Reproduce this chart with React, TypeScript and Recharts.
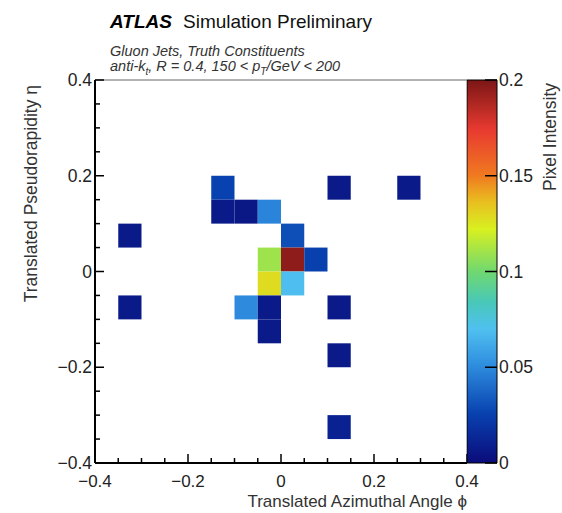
import React from "react";
import { ScatterChart, Scatter, XAxis, YAxis, ReferenceArea, ReferenceLine, BarChart, Bar } from "recharts";

// lower edges of the filled pixels (phi, eta) and their intensity
const phiLow = [-0.15, 0.1, 0.25, -0.15, -0.1, -0.05, -0.35, 0.0, -0.05, 0.0, 0.05, -0.05, 0.0, -0.35, -0.1, -0.05, 0.1, -0.05, 0.1, 0.1];
const etaLow = [0.15, 0.15, 0.15, 0.1, 0.1, 0.1, 0.05, 0.05, 0.0, 0.0, 0.0, -0.05, -0.05, -0.1, -0.1, -0.1, -0.1, -0.15, -0.2, -0.35];
const intensity = [0.026, 0.007, 0.007, 0.007, 0.006, 0.048, 0.007, 0.03, 0.11, 0.196, 0.025, 0.128, 0.069, 0.007, 0.05, 0.007, 0.007, 0.007, 0.007, 0.011];
const BIN = 0.05;

const axisTicks = [-0.4, -0.35, -0.3, -0.25, -0.2, -0.15, -0.1, -0.05, 0, 0.05, 0.1, 0.15, 0.2, 0.25, 0.3, 0.35, 0.4];
const majorTicks = [-0.4, -0.2, 0, 0.2, 0.4];
const zTicks = [0, 0.05, 0.1, 0.15, 0.2];
const Z_MAX = 0.2;

const paletteStops = [0, 0.13, 0.26, 0.35, 0.42, 0.5, 0.61, 0.68, 0.75, 0.87, 1];
const paletteColors = ["#0b0b7a", "#0842b0", "#3090e0", "#50c0f0", "#48c8b8", "#70d870", "#d8f020", "#e8c020", "#f07a20", "#e83a30", "#7c1616"];

const FONT = "'Liberation Sans', Arial, Helvetica, sans-serif";

const hex = (c: string) => [1, 3, 5].map((i) => parseInt(c.slice(i, i + 2), 16));

function colorFor(v: number) {
  const f = Math.max(0, Math.min(1, v / Z_MAX));
  let i = 0;
  while (i < paletteStops.length - 2 && f > paletteStops[i + 1]) i++;
  const t = (f - paletteStops[i]) / (paletteStops[i + 1] - paletteStops[i]);
  const a = hex(paletteColors[i]);
  const b = hex(paletteColors[i + 1]);
  const rgb = a.map((av, k) => Math.round(av + (b[k] - av) * t));
  return `rgb(${rgb.join(",")})`;
}

const cells = phiLow.map((phi, i) => ({
  phi,
  eta: etaLow[i],
  value: intensity[i],
  cx: phi + BIN / 2,
  cy: etaLow[i] + BIN / 2,
}));

const fmt = (v: number) => {
  if (Math.abs(v) < 1e-9) return "0";
  return (v < 0 ? "\u2212" : "") + Math.abs(v).toFixed(1);
};
const isMajor = (v: number) => majorTicks.some((m) => Math.abs(m - v) < 1e-6);

const XTick = (props: any) => {
  const { x, y, payload } = props;
  const major = isMajor(payload.value);
  return (
    <g>
      <line x1={x} x2={x} y1={y} y2={y - (major ? 9 : 5)} stroke="#000" strokeWidth={1.5} />
      {major && (
        <text x={x} y={y + 24} textAnchor="middle" fontSize={17} fontFamily={FONT} fill="#222">
          {fmt(payload.value)}
        </text>
      )}
    </g>
  );
};

const YTick = (props: any) => {
  const { x, y, payload } = props;
  const major = isMajor(payload.value);
  return (
    <g>
      <line x1={x} x2={x + (major ? 9 : 5)} y1={y} y2={y} stroke="#000" strokeWidth={1.5} />
      {major && (
        <text x={x - 3} y={y} dy="0.35em" textAnchor="end" fontSize={17.5} fontFamily={FONT} fill="#222">
          {fmt(payload.value)}
        </text>
      )}
    </g>
  );
};

const ZTick = (props: any) => {
  const { x, y, payload } = props;
  return (
    <g>
      <line x1={x - 12} x2={x} y1={y} y2={y} stroke="#000" strokeWidth={1.5} />
      <text x={x + 2} y={y} dy="0.35em" textAnchor="start" fontSize={17.5} fontFamily={FONT} fill="#222">
        {String(payload.value)}
      </text>
    </g>
  );
};

export default function App() {
  return (
    <div style={{ position: "absolute", left: 0, top: 0, width: 562, height: 513, background: "#fff" }}>
      <div style={{ position: "absolute", left: 0, top: 0 }}>
        <ScatterChart width={562} height={513} margin={{ top: 80, right: 95, bottom: 20, left: 55 }}>
          {cells.map((c, i) => (
            <ReferenceArea
              key={i}
              x1={c.phi}
              x2={c.phi + BIN}
              y1={c.eta}
              y2={c.eta + BIN}
              fill={colorFor(c.value)}
              fillOpacity={1}
              stroke="none"
            />
          ))}
          <ReferenceLine y={0.4} stroke="#666" strokeWidth={1} />
          <ReferenceLine x={0.4} stroke="#666" strokeWidth={1} />
          <XAxis
            type="number"
            dataKey="cx"
            domain={[-0.4, 0.4]}
            ticks={axisTicks}
            interval={0}
            allowDataOverflow
            height={30}
            tickSize={0}
            tickMargin={0}
            tickLine={false}
            axisLine={{ stroke: "#000", strokeWidth: 2 }}
            tick={<XTick />}
          />
          <YAxis
            type="number"
            dataKey="cy"
            domain={[-0.4, 0.4]}
            ticks={axisTicks}
            interval={0}
            allowDataOverflow
            width={40}
            tickSize={0}
            tickMargin={0}
            tickLine={false}
            axisLine={{ stroke: "#000", strokeWidth: 2 }}
            tick={<YTick />}
          />
          <Scatter data={cells} isAnimationActive={false} shape={() => <g />} />
        </ScatterChart>
      </div>
      <div style={{ position: "absolute", left: 467, top: 0 }}>
        <BarChart
          width={95}
          height={513}
          data={[{ name: "z", value: Z_MAX }]}
          margin={{ top: 80, right: 0, bottom: 50, left: 0 }}
          barCategoryGap={0}
        >
          <defs>
            <linearGradient id="palette" x1="0" y1="1" x2="0" y2="0">
              {paletteStops.map((s, i) => (
                <stop key={i} offset={`${s * 100}%`} stopColor={paletteColors[i]} />
              ))}
            </linearGradient>
          </defs>
          <XAxis dataKey="name" hide />
          <YAxis
            orientation="right"
            width={65}
            domain={[0, Z_MAX]}
            ticks={zTicks}
            interval={0}
            axisLine={false}
            tickLine={false}
            tickSize={0}
            tickMargin={0}
            tick={<ZTick />}
          />
          <Bar dataKey="value" fill="url(#palette)" stroke="#000" strokeWidth={1} isAnimationActive={false} />
        </BarChart>
      </div>
      <svg width={562} height={513} style={{ position: "absolute", left: 0, top: 0, pointerEvents: "none" }} fontFamily={FONT}>
        <text x={110} y={28} fontSize={19} fontWeight="bold" fontStyle="italic" fill="#000">ATLAS</text>
        <text x={183} y={28} fontSize={19} fill="#111">Simulation Preliminary</text>
        <text x={110} y={56} fontSize={14.5} fontStyle="italic" fill="#333">Gluon Jets, Truth Constituents</text>
        <text x={110} y={71} fontSize={14.5} fontStyle="italic" fill="#333">
          anti-k<tspan fontSize={10} dy={4}>t</tspan>
          <tspan dy={-4}>, R = 0.4, 150 &lt; p</tspan>
          <tspan fontSize={10} dy={4}>T</tspan>
          <tspan dy={-4}>/GeV &lt; 200</tspan>
        </text>
        <text x={467} y={507} textAnchor="end" fontSize={17} fill="#333">Translated Azimuthal Angle ϕ</text>
        <text transform="translate(37,85) rotate(-90)" textAnchor="end" fontSize={17.5} fill="#333">Translated Pseudorapidity η</text>
        <text transform="translate(556,83) rotate(-90)" textAnchor="end" fontSize={17.5} fill="#333">Pixel Intensity</text>
      </svg>
    </div>
  );
}
